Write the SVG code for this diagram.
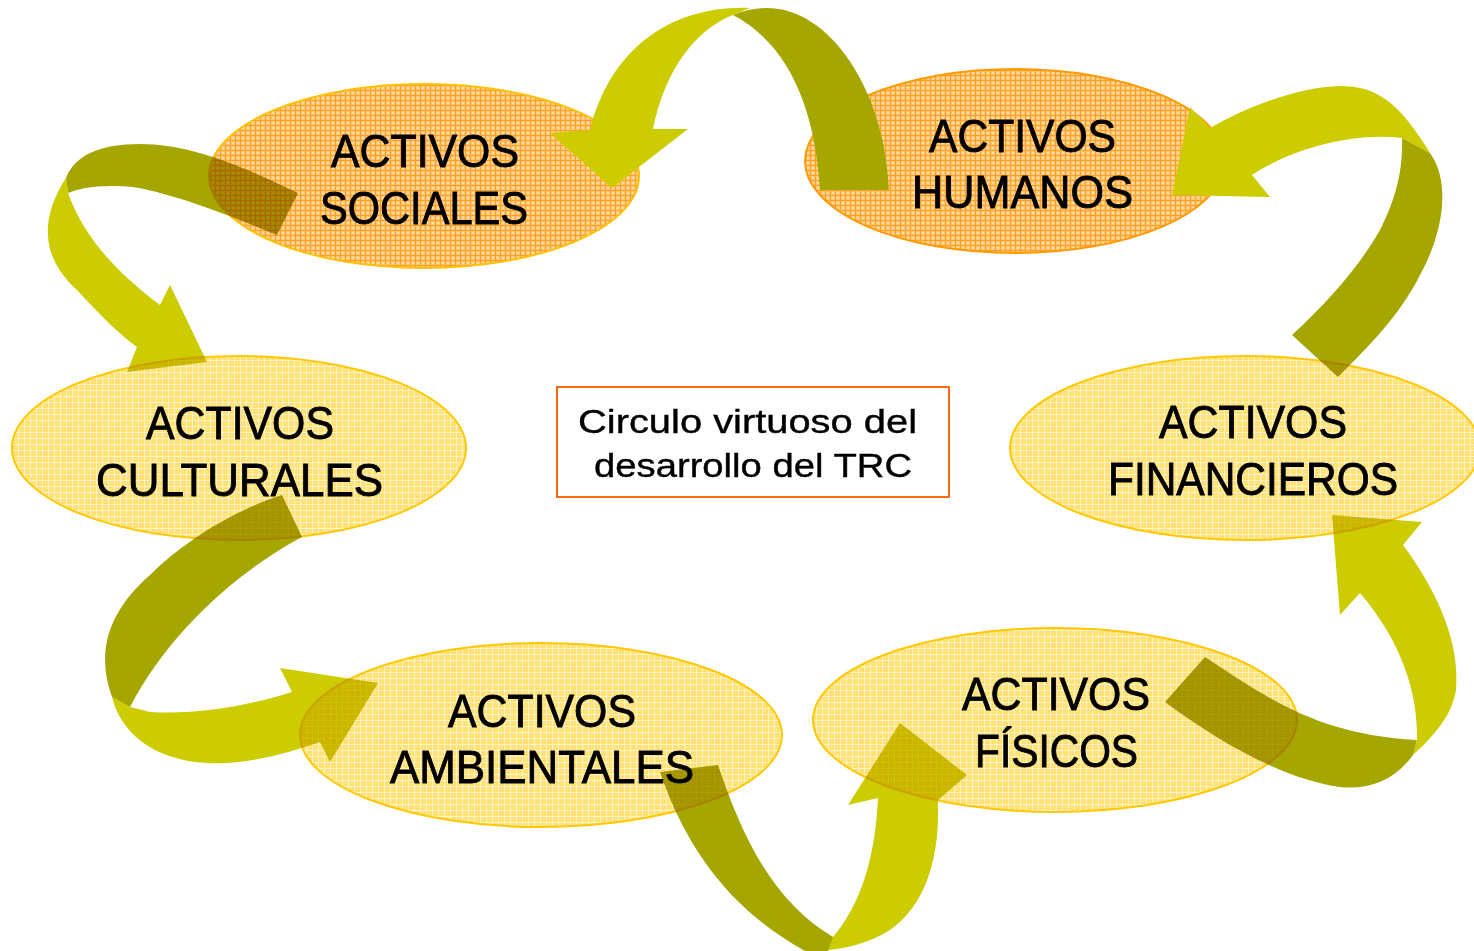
<svg xmlns="http://www.w3.org/2000/svg" width="1474" height="951" viewBox="0 0 1474 951">
<style>
.light{fill:#CCCC00}
.dark{fill:#A6A600}
.lbl{font-family:"Liberation Sans",Arial,sans-serif;font-size:46px;fill:#000;stroke:#000;stroke-width:0.9px}
.ctr{font-family:"Liberation Sans",Arial,sans-serif;font-size:34px;fill:#000;stroke:#000;stroke-width:0.4px}
.ey{fill:url(#pYellow);stroke:#FFC800;stroke-width:2;mix-blend-mode:multiply}
.eo{fill:url(#pOrange);stroke:#FFB000;stroke-width:2;mix-blend-mode:multiply}
</style>
<defs>
<pattern id="pOrange" width="5" height="5" patternUnits="userSpaceOnUse">
<rect width="5" height="5" fill="#FFC878"/>
<path d="M0 0.5H5M0.5 0V5" stroke="#FFA020" stroke-width="1"/>
<rect x="2" y="2" width="2" height="2" fill="#FFDCAA"/>
</pattern>
<pattern id="pYellow" width="6" height="6" patternUnits="userSpaceOnUse">
<rect width="6" height="6" fill="#FFE070"/>
<path d="M0 0.5H6M0.5 0V6" stroke="#FFF4CC" stroke-width="1"/>
<rect x="3" y="3" width="1" height="1" fill="#FFEFA8"/>
</pattern>
</defs>
<rect width="1474" height="951" fill="#fff"/>

<g id="connectors">
<g id="arrow-sociales-culturales">
<path class="light" d="M66,178 C42,215 38,255 77,290 C100,315 120,335 137,347 L127,372 L207,362 L170,285 L160,305 C120,275 85,240 68,193 Z"/>
<path class="dark" d="M298,193 L277,235 C240,220 180,195 133,187 C100,184 80,188 68,193 L66,178 C75,155 100,144 140,144 C190,144 240,165 298,193 Z"/>
</g>
<g id="arrow-culturales-ambientales">
<path class="light" d="M112,697 C120,730 150,760 207,763 C250,765 290,752 320,742 L330,762 L378,683 L280,668 L292,692 C250,705 200,715 150,712 L130,707 Z"/>
<path class="dark" d="M282,495 L302,537 C240,570 170,630 130,707 L112,697 C95,650 110,610 150,575 C185,540 235,510 282,495 Z"/>
</g>
<g id="arrow-ambientales-fisicos">
<path class="light" d="M833,937 C860,905 875,860 878,798 L848,805 L900,723 L967,775 L938,800 C940,860 925,905 890,930 C870,943 845,949 820,951 Z"/>
<path class="dark" d="M660,772 L718,765 C740,830 770,900 833,937 L828,951 L805,951 C740,915 690,860 660,772 Z"/>
</g>
<g id="arrow-fisicos-financieros">
<path class="light" d="M1417,740 C1418,690 1400,640 1360,593 L1340,615 L1332,515 L1422,522 L1403,545 C1440,595 1460,645 1456,690 C1452,715 1435,735 1413,755 Z"/>
<path class="dark" d="M1205,657 C1270,700 1320,735 1417,740 L1413,755 C1395,780 1370,790 1340,787 C1290,780 1230,750 1165,702 Z"/>
</g>
</g>

<g id="node-culturales">
<ellipse class="ey" cx="239" cy="448" rx="227" ry="92"/>
<text class="lbl" x="146" y="439" textLength="188" lengthAdjust="spacingAndGlyphs">ACTIVOS</text>
<text class="lbl" x="96" y="496" textLength="287" lengthAdjust="spacingAndGlyphs">CULTURALES</text>
</g>
<g id="node-ambientales">
<ellipse class="ey" cx="541" cy="735" rx="241" ry="92"/>
<text class="lbl" x="448" y="727" textLength="188" lengthAdjust="spacingAndGlyphs">ACTIVOS</text>
<text class="lbl" x="390" y="783" textLength="304" lengthAdjust="spacingAndGlyphs">AMBIENTALES</text>
</g>
<g id="node-fisicos">
<ellipse class="ey" cx="1055" cy="720" rx="242" ry="92"/>
<text class="lbl" x="962" y="710" textLength="188" lengthAdjust="spacingAndGlyphs">ACTIVOS</text>
<text class="lbl" x="975" y="767" textLength="163" lengthAdjust="spacingAndGlyphs">FÍSICOS</text>
</g>
<g id="node-sociales">
<ellipse class="eo" cx="424" cy="176" rx="215" ry="92" style="stroke:#FFC000"/>
<text class="lbl" x="331" y="167" textLength="188" lengthAdjust="spacingAndGlyphs">ACTIVOS</text>
<text class="lbl" x="320" y="224" textLength="208" lengthAdjust="spacingAndGlyphs">SOCIALES</text>
</g>
<g id="node-humanos">
<ellipse class="eo" cx="1015" cy="161" rx="210" ry="92" style="stroke:#FF9900"/>
<text class="lbl" x="929" y="152" textLength="187" lengthAdjust="spacingAndGlyphs">ACTIVOS</text>
<text class="lbl" x="912" y="208" textLength="221" lengthAdjust="spacingAndGlyphs">HUMANOS</text>
</g>

<g id="connectors-top">
<g id="arrow-humanos-sociales">
<path class="light" d="M750,8 C670,5 610,50 590,130 L550,133 L612,188 L688,129 L653,129 C665,70 695,30 733,15 Z"/>
<path class="dark" d="M733,15 Q750,8 767,8 C830,8 885,90 889,190 L820,190 C815,110 790,45 733,15 Z"/>
</g>
<g id="arrow-financieros-humanos">
<path class="light" d="M1402,138 C1350,132 1290,150 1252,175 L1270,197 L1172,195 L1190,107 L1210,128 C1250,105 1300,87 1340,86 C1375,86 1398,100 1430,153 Z"/>
<path class="dark" d="M1402,138 L1430,153 C1450,180 1445,230 1420,275 C1400,315 1370,345 1338,377 L1292,335 C1330,300 1360,265 1380,230 C1398,195 1403,165 1402,138 Z"/>
</g>
</g>

<g id="node-financieros">
<ellipse class="ey" cx="1245" cy="448" rx="235" ry="92"/>
<text class="lbl" x="1159" y="438" textLength="188" lengthAdjust="spacingAndGlyphs">ACTIVOS</text>
<text class="lbl" x="1108" y="495" textLength="290" lengthAdjust="spacingAndGlyphs">FINANCIEROS</text>
</g>

<g id="node-centro">
<rect x="557" y="387" width="392" height="110" fill="#fff" stroke="#FF6A10" stroke-width="2"/>
<text class="ctr" x="578" y="433" textLength="339" lengthAdjust="spacingAndGlyphs">Circulo virtuoso del</text>
<text class="ctr" x="594" y="477" textLength="318" lengthAdjust="spacingAndGlyphs">desarrollo del TRC</text>
</g>
</svg>
